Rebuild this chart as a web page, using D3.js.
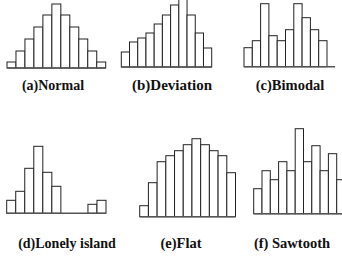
<!DOCTYPE html>
<html><head><meta charset="utf-8">
<script src="https://cdn.jsdelivr.net/npm/d3@7"></script>
<style>body{margin:0;background:#fff}svg{display:block}
text{font-family:"Liberation Serif","Times New Roman","DejaVu Serif",serif;font-weight:bold}</style>
</head><body>
<script>
// Data (bar heights, arbitrary count units)
const titles = ["(a)Normal","(b)Deviation","(c)Bimodal","(d)Lonely island","(e)Flat","(f) Sawtooth"];
const normal    = [6,17,29,41,53,64,53,41,29,17,6];
const deviation = [15,25,29,34,43,52,62,71,52,34,19];
const bimodal   = [19,26,63,31,26,37,63,49,37,26];
const lonely    = [13,22,45,67,41,27,0,0,0,9,13];
const flat      = [11,34,55,61,66,72,78,72,66,61,44];
const sawtooth  = [25,43,34,52,43,85,52,68,43,60,34];

const W=342,H=256;
const svg=d3.select("body").append("svg").attr("width",W).attr("height",H);

// layout for each panel
const panels=[
 {data:normal,   x0:7,     x1:105.7, base:68,    lx0:7,    lx1:105.7, tx:53,  ty:90,  fs:14},
 {data:deviation,x0:121.3, x1:211.7, base:67,    lx0:121.3,lx1:211.7, tx:172, ty:90,  fs:15},
 {data:bimodal,  x0:244,   x1:327,   base:66.7,  lx0:244,  lx1:335,   tx:290, ty:90,  fs:14.5},
 {data:lonely,   x0:6.7,   x1:106,   base:213.3, lx0:6.7,  lx1:106,   tx:67,  ty:248, fs:14},
 {data:flat,     x0:139.7, x1:235.5, base:216.7, lx0:139.7,lx1:235.5, tx:181, ty:248, fs:14.5},
 {data:sawtooth, x0:253.7, x1:345,   base:213.7, lx0:253.7,lx1:342,   tx:292, ty:248, fs:14.5}
];

panels.forEach((p,i)=>{
  const g=svg.append("g");
  const x=d3.scaleBand().domain(d3.range(p.data.length)).range([p.x0,p.x1]).padding(0);
  const y=d3.scaleLinear().domain([0,70]).range([p.base,p.base-70]);
  g.selectAll("rect").data(p.data.map((v,j)=>({v,j})).filter(d=>d.v>0)).join("rect")
    .attr("x",d=>x(d.j)).attr("y",d=>y(d.v))
    .attr("width",x.bandwidth()).attr("height",d=>y(0)-y(d.v))
    .attr("fill","#fff").attr("stroke","#222").attr("stroke-width",1);
  g.append("line").attr("x1",p.lx0).attr("x2",p.lx1).attr("y1",y(0)).attr("y2",y(0))
    .attr("stroke","#555").attr("stroke-width",1.5);
  svg.append("text").attr("x",p.tx).attr("y",p.ty).attr("text-anchor","middle")
    .attr("font-size",p.fs).attr("fill","#111").text(titles[i]);
});
</script>
</body></html>
